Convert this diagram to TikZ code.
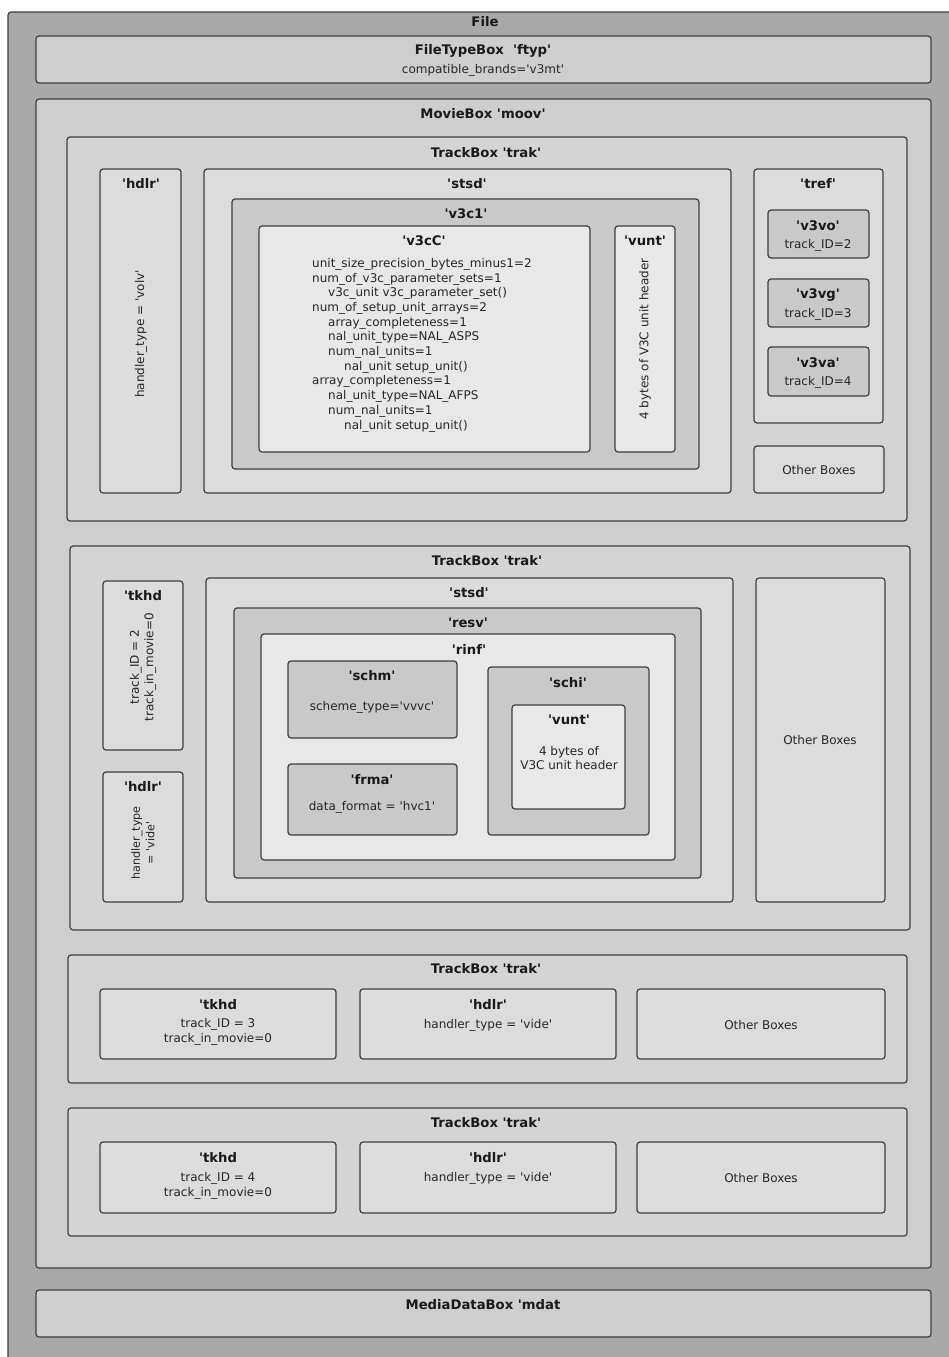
\documentclass[tikz,border=0pt]{standalone}
\usepackage{fontspec}
\setmainfont{DejaVu Sans}[Ligatures=TeXOff]
\usetikzlibrary{fit}

\definecolor{filebg}{HTML}{A9A9A9}
\definecolor{lvlA}{HTML}{CECECE}
\definecolor{lvlB}{HTML}{D4D4D4}
\definecolor{lvlC}{HTML}{DCDCDC}
\definecolor{lvlD}{HTML}{C9C9C9}
\definecolor{lvlE}{HTML}{E8E8E8}
\definecolor{edge}{HTML}{3E3E3E}

\tikzset{
  box/.style={draw=edge, line width=1.2pt, rounded corners=3pt, inner sep=0pt},
  ttl/.style={font=\bfseries\fontsize{13.2}{15}\selectfont, inner sep=0pt, text=black!90},
  txt/.style={font=\fontsize{12}{14.7}\selectfont, inner sep=0pt, align=center, text=black!85},
  vtxt/.style={txt, rotate=90},
}
% #1 name, #2/#3 top-left, #4/#5 bottom-right, #6 fill
\newcommand\bx[6]{\node[box, fill=#6, fit={(#2,#3)(#4,#5)}] (#1) {};}

\begin{document}
\begin{tikzpicture}[x=1pt,y=-1pt]
\useasboundingbox (0,0) rectangle (949,1357);
\fill[white] (0,0) rectangle (949,1357);

% outer file
\bx{file}{8}{12}{975}{1390}{filebg}
\node[ttl] (file-t) at (485,22) {File};

% ftyp
\bx{ftyp}{36}{36}{931}{83}{lvlA}
\node[ttl] (ftyp-t) at (483,51) {FileTypeBox\ \ 'ftyp'};
\node[txt] (ftyp-s) at (483,70) {compatible\_brands='v3mt'};

% moov
\bx{moov}{36}{99}{931}{1268}{lvlA}
\node[ttl] (moov-t) at (483,114) {MovieBox 'moov'};

% ---------- track 1 (volumetric track)
\bx{trakA}{67}{137}{907}{521}{lvlB}
\node[ttl] (trakA-t) at (486,153) {TrackBox 'trak'};

\bx{hdlrA}{100}{169}{181}{493}{lvlC}
\node[ttl] (hdlrA-t) at (141,184) {'hdlr'};
\node[vtxt] (hdlrA-s) at (141,334) {handler\_type = 'volv'};

\bx{stsdA}{204}{169}{731}{493}{lvlC}
\node[ttl] (stsdA-t) at (467,184) {'stsd'};

\bx{v3ca}{232}{199}{699}{469}{lvlD}
\node[ttl] (v3ca-t) at (466,214) {'v3c1'};

\bx{v3cC}{259}{226}{590}{452}{lvlE}
\node[ttl] (v3cC-t) at (424,241) {'v3cC'};
\node[txt, align=left, anchor=north west] (v3cC-s) at (312,258) {%
unit\_size\_precision\_bytes\_minus1=2\\
num\_of\_v3c\_parameter\_sets=1\\
\hspace*{16pt}v3c\_unit v3c\_parameter\_set()\\
num\_of\_setup\_unit\_arrays=2\\
\hspace*{16pt}array\_completeness=1\\
\hspace*{16pt}nal\_unit\_type=NAL\_ASPS\\
\hspace*{16pt}num\_nal\_units=1\\
\hspace*{32pt}nal\_unit setup\_unit()\\
array\_completeness=1\\
\hspace*{16pt}nal\_unit\_type=NAL\_AFPS\\
\hspace*{16pt}num\_nal\_units=1\\
\hspace*{32pt}nal\_unit setup\_unit()};

\bx{vuntA}{615}{226}{675}{452}{lvlE}
\node[ttl] (vuntA-t) at (645,241) {'vunt'};
\node[vtxt] (vuntA-s) at (645,339) {4 bytes of V3C unit header};

\bx{tref}{754}{169}{883}{423}{lvlC}
\node[ttl] (tref-t) at (818,184) {'tref'};
\bx{v3vo}{768}{210}{869}{258}{lvlD}
\node[ttl] (v3vo-t) at (818,226) {'v3vo'};
\node[txt] (v3vo-s) at (818,245) {track\_ID=2};
\bx{v3vg}{768}{279}{869}{327}{lvlD}
\node[ttl] (v3vg-t) at (818,295) {'v3vg'};
\node[txt] (v3vg-s) at (818,314) {track\_ID=3};
\bx{v3va}{768}{347}{869}{396}{lvlD}
\node[ttl] (v3va-t) at (818,363) {'v3va'};
\node[txt] (v3va-s) at (818,382) {track\_ID=4};

\bx{othA}{754}{446}{884}{493}{lvlC}
\node[txt] (othA-s) at (819,470) {Other Boxes};

% ---------- track 2 (occupancy video track)
\bx{trakB}{70}{546}{910}{930}{lvlB}
\node[ttl] (trakB-t) at (487,561) {TrackBox 'trak'};

\bx{tkhdB}{103}{581}{183}{750}{lvlC}
\node[ttl] (tkhdB-t) at (143,596) {'tkhd};
\node[vtxt] (tkhdB-s) at (143,667) {track\_ID = 2\\track\_in\_movie=0};

\bx{hdlrB}{103}{772}{183}{902}{lvlC}
\node[ttl] (hdlrB-t) at (143,787) {'hdlr'};
\node[vtxt, font=\fontsize{11.2}{14.5}\selectfont] (hdlrB-s) at (143,843) {handler\_type\\= 'vide'};

\bx{stsdB}{206}{578}{733}{902}{lvlC}
\node[ttl] (stsdB-t) at (469,593) {'stsd'};
\bx{resv}{234}{608}{701}{878}{lvlD}
\node[ttl] (resv-t) at (468,623) {'resv'};
\bx{rinf}{261}{634}{675}{860}{lvlE}
\node[ttl] (rinf-t) at (469,649) {'rinf'};

\bx{schm}{288}{661}{457}{738}{lvlD}
\node[ttl] (schm-t) at (372,676) {'schm'};
\node[txt] (schm-s) at (372,707) {scheme\_type='vvvc'};
\bx{frma}{288}{764}{457}{835}{lvlD}
\node[ttl] (frma-t) at (372,780) {'frma'};
\node[txt] (frma-s) at (372,807) {data\_format = 'hvc1'};

\bx{schi}{488}{667}{649}{835}{lvlD}
\node[ttl] (schi-t) at (568,683) {'schi'};
\bx{vuntB}{512}{705}{625}{809}{lvlE}
\node[ttl] (vuntB-t) at (569,720) {'vunt'};
\node[txt] (vuntB-s) at (569,758) {4 bytes of\\V3C unit header};

\bx{othB}{756}{578}{885}{902}{lvlC}
\node[txt] (othB-s) at (820,740) {Other Boxes};

% ---------- track 3
\bx{trakC}{68}{955}{907}{1083}{lvlB}
\node[ttl] (trakC-t) at (486,969) {TrackBox 'trak'};
\bx{tkhdC}{100}{989}{336}{1059}{lvlC}
\node[ttl] (tkhdC-t) at (218,1005) {'tkhd};
\node[txt] (tkhdC-s) at (218,1032) {track\_ID = 3\\track\_in\_movie=0};
\bx{hdlrC}{360}{989}{616}{1059}{lvlC}
\node[ttl] (hdlrC-t) at (488,1005) {'hdlr'};
\node[txt] (hdlrC-s) at (488,1025) {handler\_type = 'vide'};
\bx{othC}{637}{989}{885}{1059}{lvlC}
\node[txt] (othC-s) at (761,1025) {Other Boxes};

% ---------- track 4
\bx{trakD}{68}{1108}{907}{1236}{lvlB}
\node[ttl] (trakD-t) at (486,1123) {TrackBox 'trak'};
\bx{tkhdD}{100}{1142}{336}{1213}{lvlC}
\node[ttl] (tkhdD-t) at (218,1158) {'tkhd};
\node[txt] (tkhdD-s) at (218,1186) {track\_ID = 4\\track\_in\_movie=0};
\bx{hdlrD}{360}{1142}{616}{1213}{lvlC}
\node[ttl] (hdlrD-t) at (488,1158) {'hdlr'};
\node[txt] (hdlrD-s) at (488,1178) {handler\_type = 'vide'};
\bx{othD}{637}{1142}{885}{1213}{lvlC}
\node[txt] (othD-s) at (761,1178) {Other Boxes};

% mdat
\bx{mdat}{36}{1290}{931}{1337}{lvlA}
\node[ttl] (mdat-t) at (483,1305) {MediaDataBox 'mdat};
\end{tikzpicture}
\end{document}
